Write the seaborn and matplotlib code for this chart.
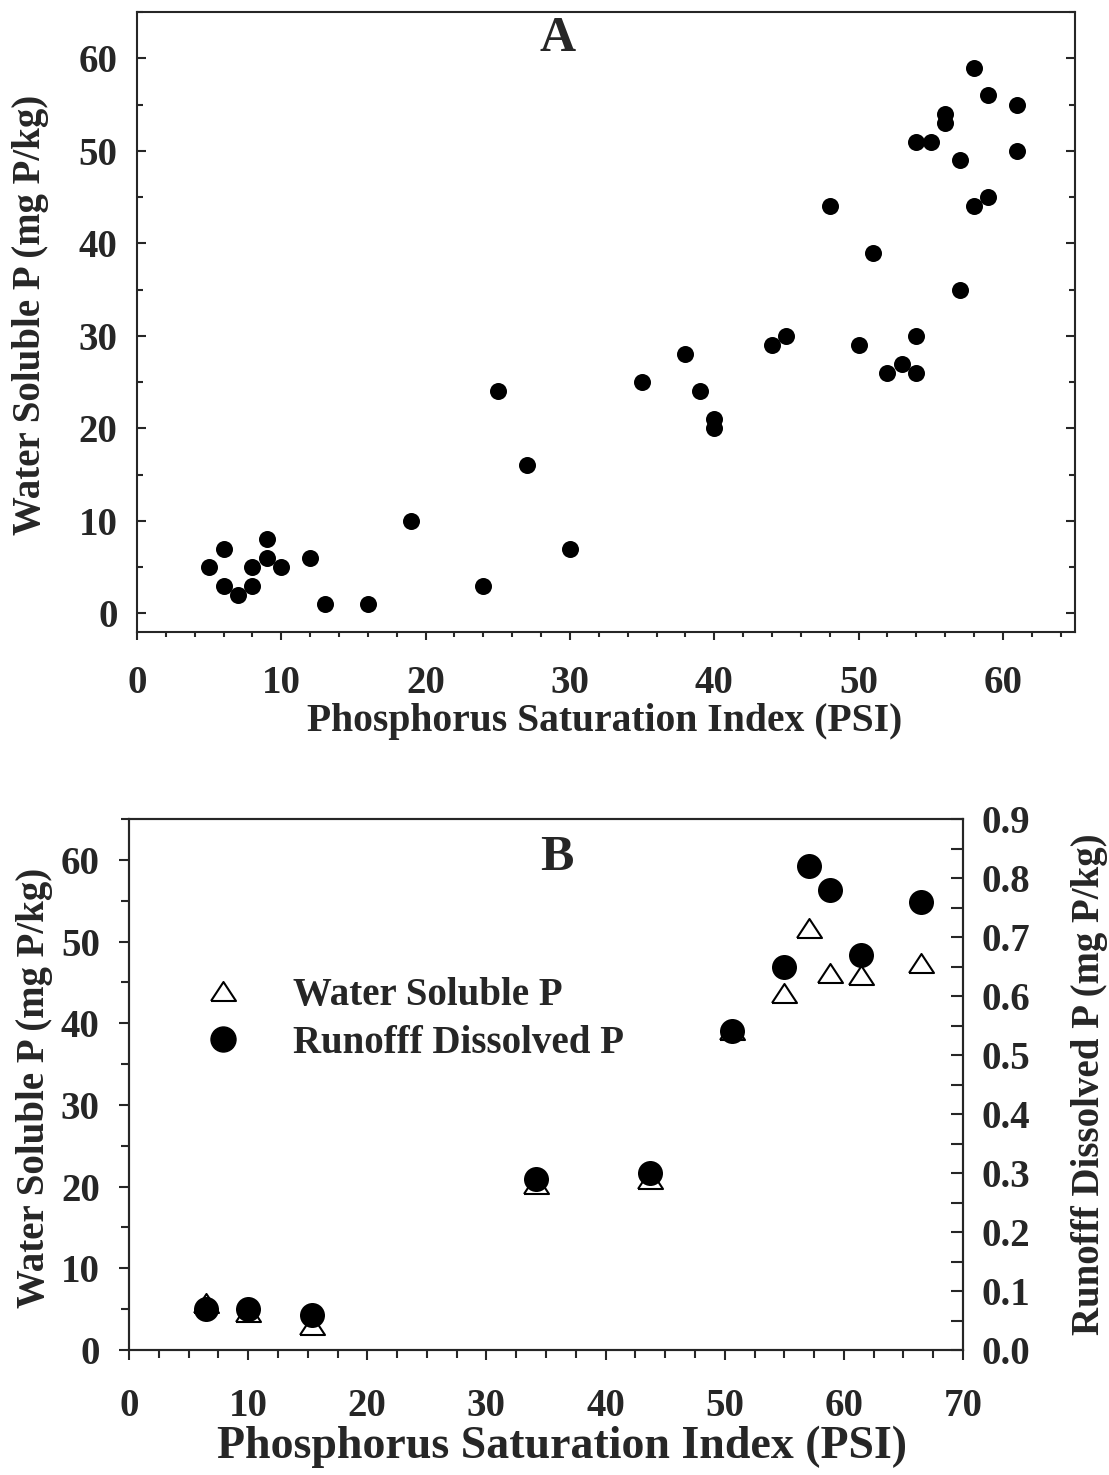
import numpy as np
import pandas as pd
import matplotlib
matplotlib.use("Agg")
import matplotlib.pyplot as plt
import seaborn as sns
from matplotlib.ticker import MultipleLocator
from matplotlib.lines import Line2D

# ---------------- data ----------------
psi_a = [5, 6, 6, 7, 8, 8, 9, 9, 10, 12, 13, 16, 19, 24, 25, 27, 30, 35, 38, 39,
         40, 40, 44, 45, 48, 50, 51, 52, 53, 54, 54, 54, 55, 56, 56, 57, 57, 58,
         58, 59, 59, 61, 61]
wsp_a = [5, 7, 3, 2, 5, 3, 8, 6, 5, 6, 1, 1, 10, 3, 24, 16, 7, 25, 28, 24,
         21, 20, 29, 30, 44, 29, 39, 26, 27, 30, 26, 51, 51, 54, 53, 49, 35, 59,
         44, 56, 45, 55, 50]

psi_b = [6.5, 10.0, 15.4, 34.2, 43.7, 50.6, 55.0, 57.1, 58.8, 61.4, 66.5]
wsp_b = [5.7, 4.6, 3.1, 20.3, 20.9, 39.2, 43.7, 51.6, 46.2, 45.9, 47.4]
rdp_b = [0.07, 0.07, 0.06, 0.29, 0.30, 0.54, 0.65, 0.82, 0.78, 0.67, 0.76]

panel_labels = ["A", "B"]
x_label = "Phosphorus Saturation Index (PSI)"
y_label = "Water Soluble P (mg P/kg)"
y2_label = "Runofff Dissolved P (mg P/kg)"
series_names = ["Water Soluble P", "Runofff Dissolved P"]

# ---------------- style ----------------
sns.set_style("ticks")
plt.rcParams['font.family'] = ['Liberation Serif', 'DejaVu Serif']
plt.rcParams['font.weight'] = 'bold'
plt.rcParams['axes.labelweight'] = 'bold'
plt.rcParams['axes.linewidth'] = 1.5

W, H = 1109, 1475
fig = plt.figure(figsize=(W / 100, H / 100), dpi=100)

TICK_FS = 28
LABEL_FS = 28

tri = [(-1, -0.76), (1, -0.76), (0, 0.76), (-1, -0.76)]

# ---------------- panel A ----------------
axA = fig.add_axes([137 / W, 1 - 632 / H, 938 / W, 620 / H])
df_a = pd.DataFrame({"psi": psi_a, "wsp": wsp_a})
sns.scatterplot(data=df_a, x="psi", y="wsp", ax=axA, color="black",
                s=150, edgecolor="black", linewidth=0, legend=False, zorder=3)
axA.set_xlim(0, 65)
axA.set_ylim(-2, 65)
axA.xaxis.set_major_locator(MultipleLocator(10))
axA.xaxis.set_minor_locator(MultipleLocator(2))
axA.yaxis.set_major_locator(MultipleLocator(10))
axA.yaxis.set_minor_locator(MultipleLocator(5))
axA.set_xticks(range(0, 61, 10))
axA.tick_params(axis='x', which='major', direction='out', length=6, width=1.5,
                pad=18, labelsize=TICK_FS, top=False)
axA.tick_params(axis='x', which='minor', direction='out', length=3.5, width=1.5, top=False)
axA.tick_params(axis='y', which='major', direction='in', length=6.5, width=1.5,
                pad=14, labelsize=TICK_FS, left=True, right=True)
axA.tick_params(axis='y', which='minor', direction='in', length=4.5, width=1.5,
                left=True, right=True)
for lab in axA.get_xticklabels() + axA.get_yticklabels():
    lab.set_fontweight('bold')
axA.set_xlabel(x_label, fontsize=LABEL_FS + 0.5, fontweight='bold', va='center')
axA.xaxis.set_label_coords(0.499, -0.145)
axA.set_ylabel(y_label, fontsize=LABEL_FS, fontweight='bold', va='center')
axA.yaxis.set_label_coords(-0.114, 0.511)
axA.text(0.448, 0.956, panel_labels[0], transform=axA.transAxes, ha='center',
         va='center', fontsize=36, fontweight='bold')

# ---------------- panel B ----------------
axB = fig.add_axes([129 / W, 1 - 1350 / H, 834 / W, 531 / H])
df_b = pd.DataFrame({"psi": psi_b, "wsp": wsp_b, "rdp": rdp_b})
sns.scatterplot(data=df_b, x="psi", y="wsp", ax=axB, marker=tri, color="white",
                edgecolor="black", linewidth=1.5, s=324, legend=False, zorder=3)
axB.set_xlim(0, 70)
axB.set_ylim(0, 65)
axB.xaxis.set_major_locator(MultipleLocator(10))
axB.xaxis.set_minor_locator(MultipleLocator(2.5))
axB.yaxis.set_major_locator(MultipleLocator(10))
axB.yaxis.set_minor_locator(MultipleLocator(5))
axB.set_yticks(range(0, 61, 10))
axB.tick_params(axis='x', which='major', direction='out', length=7, width=1.5,
                pad=20, labelsize=TICK_FS, top=False)
axB.tick_params(axis='x', which='minor', direction='out', length=6, width=1.5, top=False)
axB.tick_params(axis='y', which='major', direction='out', length=7, width=1.5,
                pad=14, labelsize=TICK_FS, left=True, right=False)
axB.tick_params(axis='y', which='minor', direction='out', length=5.5, width=1.5,
                left=True, right=False)
axB.set_xlabel(x_label, fontsize=LABEL_FS + 5, fontweight='bold', va='center')
axB.xaxis.set_label_coords(0.519, -0.183)
axB.set_ylabel(y_label, fontsize=LABEL_FS, fontweight='bold', va='center')
axB.yaxis.set_label_coords(-0.113, 0.493)
axB.text(0.513, 0.927, panel_labels[1], transform=axB.transAxes, ha='center',
         va='center', fontsize=36, fontweight='bold')

axB2 = axB.twinx()
sns.scatterplot(data=df_b, x="psi", y="rdp", ax=axB2, color="black",
                s=324, edgecolor="black", linewidth=0, legend=False, zorder=4)
axB2.set_ylim(0, 0.9)
axB2.yaxis.set_major_locator(MultipleLocator(0.1))
axB2.yaxis.set_minor_locator(MultipleLocator(0.05))
axB2.yaxis.set_major_formatter(matplotlib.ticker.FormatStrFormatter('%.1f'))
axB2.tick_params(axis='y', which='both', direction='in', length=8.5, width=1.5,
                 pad=13, labelsize=TICK_FS, left=False, right=True)
axB2.set_ylabel(y2_label, fontsize=LABEL_FS, fontweight='bold', va='center',
                rotation=90)
axB2.yaxis.set_label_coords(1.152, 0.501)
for a in (axB, axB2):
    for lab in a.get_xticklabels() + a.get_yticklabels():
        lab.set_fontweight('bold')

handles = [
    Line2D([], [], marker=tri, linestyle='none', markerfacecolor='white',
           markeredgecolor='black', markeredgewidth=1.5, markersize=18),
    Line2D([], [], marker='o', linestyle='none', markerfacecolor='black',
           markeredgecolor='black', markersize=18),
]
leg = axB2.legend(handles, series_names, loc='upper left',
                  bbox_to_anchor=(0.0894, 0.7025), frameon=False,
                  prop={'size': 28, 'weight': 'bold'}, handlelength=1.0,
                  handletextpad=1.3, labelspacing=0.28, borderpad=0,
                  borderaxespad=0)

fig.savefig("out.png", dpi=100)
